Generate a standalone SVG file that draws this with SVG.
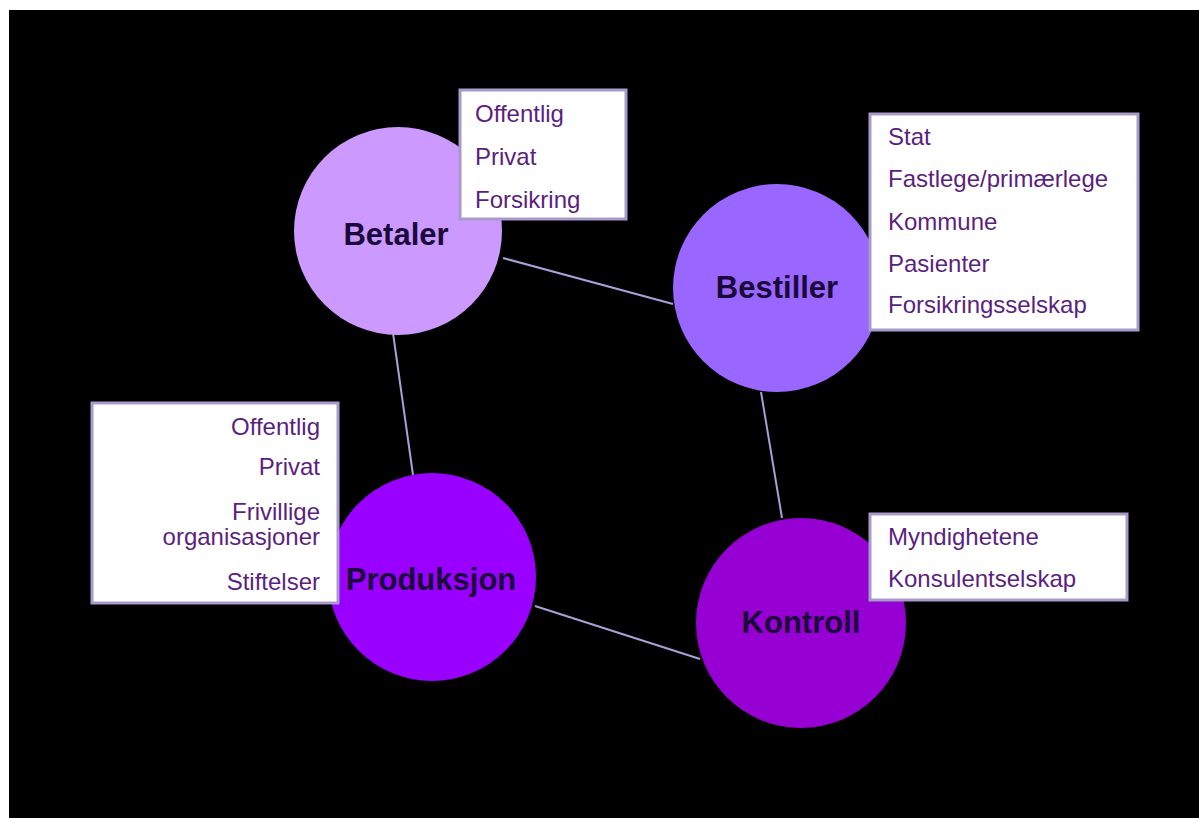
<svg xmlns="http://www.w3.org/2000/svg" width="1199" height="818" viewBox="0 0 1199 818">
<style>
.conn{stroke:#A9A0D8;stroke-width:2;fill:none}
.box{fill:#FFFFFF;stroke:#A89ACB;stroke-width:3}
.item{font-family:"Liberation Sans",Arial,sans-serif;font-size:24px;fill:#5B1F7F}
.lbl{font-family:"Liberation Sans",Arial,sans-serif;font-size:31px;font-weight:bold;fill:#1A0A3A;text-anchor:middle}
</style>
<rect x="0" y="0" width="1199" height="818" fill="#FFFFFF"/>
<rect x="9" y="10" width="1190" height="808" fill="#000000"/>
<g id="connectors">
<line class="conn" x1="503" y1="258" x2="673" y2="304"/>
<line class="conn" x1="393" y1="333" x2="413" y2="475"/>
<line class="conn" x1="761" y1="392" x2="782" y2="518"/>
<line class="conn" x1="535" y1="606" x2="700" y2="659"/>
</g>
<g id="betaler">
<circle cx="398" cy="231" r="104" fill="#CC99FF"/>
<text class="lbl" x="396" y="245">Betaler</text>
</g>
<g id="bestiller">
<circle cx="777" cy="288" r="104" fill="#9966FF"/>
<text class="lbl" x="777" y="298">Bestiller</text>
</g>
<g id="produksjon">
<circle cx="432" cy="577" r="104" fill="#9900FF"/>
<text class="lbl" x="431" y="590">Produksjon</text>
</g>
<g id="kontroll">
<circle cx="801" cy="623" r="105" fill="#9600D2"/>
<text class="lbl" x="801" y="633">Kontroll</text>
</g>
<g id="betaler-box">
<rect class="box" x="460" y="90" width="166" height="129"/>
<text class="item" x="475" y="122">Offentlig</text>
<text class="item" x="475" y="165">Privat</text>
<text class="item" x="475" y="208">Forsikring</text>
</g>
<g id="bestiller-box">
<rect class="box" x="870" y="114" width="268" height="216"/>
<text class="item" x="888" y="145">Stat</text>
<text class="item" x="888" y="187">Fastlege/primærlege</text>
<text class="item" x="888" y="230">Kommune</text>
<text class="item" x="888" y="272">Pasienter</text>
<text class="item" x="888" y="313">Forsikringsselskap</text>
</g>
<g id="produksjon-box">
<rect class="box" x="92" y="403" width="246" height="200"/>
<g text-anchor="end">
<text class="item" x="320" y="435">Offentlig</text>
<text class="item" x="320" y="475">Privat</text>
<text class="item" x="320" y="520">Frivillige</text>
<text class="item" x="320" y="545">organisasjoner</text>
<text class="item" x="320" y="590">Stiftelser</text>
</g>
</g>
<g id="kontroll-box">
<rect class="box" x="870" y="514" width="257" height="86"/>
<text class="item" x="888" y="545">Myndighetene</text>
<text class="item" x="888" y="587">Konsulentselskap</text>
</g>
</svg>
